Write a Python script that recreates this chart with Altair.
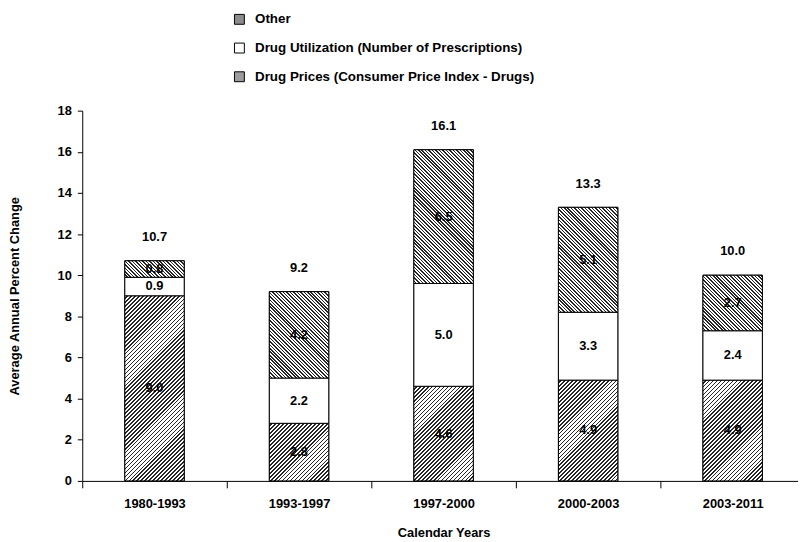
import math
import altair as alt
import pandas as pd

periods = ["1980-1993", "1993-1997", "1997-2000", "2000-2003", "2003-2011"]
prices = [9.0, 2.8, 4.6, 4.9, 4.9]
utilization = [0.9, 2.2, 5.0, 3.3, 2.4]
other = [0.8, 4.2, 6.5, 5.1, 2.7]
totals = [10.7, 9.2, 16.1, 13.3, 10.0]

series_names = [
    "Other",
    "Drug Utilization (Number of Prescriptions)",
    "Drug Prices (Consumer Price Index - Drugs)",
]
stack_rank = {series_names[2]: 0, series_names[1]: 1, series_names[0]: 2}

rows = []
for i, p in enumerate(periods):
    for name, vals in ((series_names[2], prices), (series_names[1], utilization), (series_names[0], other)):
        rows.append({"period": p, "series": name, "value": vals[i], "rank": stack_rank[name]})
df = pd.DataFrame(rows)
tot_df = pd.DataFrame({"period": periods, "total": totals})

FONT = "Liberation Sans"
PLOT_W, PLOT_H = 730, 374
Y_MAX = 18
BAR_W = 60
PX_PER_UNIT = PLOT_H / Y_MAX


def hatch(h, period, duty, forward, ink="#262626", w=BAR_W):
    """45-degree hatch as a linear gradient in bounding-box units."""
    n = math.ceil((w + h) / period)
    k = n * period / (w * w + h * h)
    if forward:  # "/" lines
        x1, y1, x2, y2 = 0, 0, k * w, k * h
    else:  # "\" lines
        x1, y1, x2, y2 = 0, 1, k * w, 1 - k * h
    stops = []
    for i in range(n):
        a = i / n
        b = (i + 1 - duty) / n
        c = (i + 1) / n
        stops += [
            {"offset": a, "color": "white"},
            {"offset": b, "color": "white"},
            {"offset": b, "color": ink},
            {"offset": c, "color": ink},
        ]
    return {"gradient": "linear", "x1": x1, "y1": y1, "x2": x2, "y2": y2, "stops": stops}


conditions = []
for i, p in enumerate(periods):
    conditions.append({
        "test": f"datum.period === '{p}' && datum.series === 'Other'",
        "value": hatch(other[i] * PX_PER_UNIT, 3.5, 0.45, False),
    })
    conditions.append({
        "test": f"datum.period === '{p}' && datum.series === '{series_names[2]}'",
        "value": hatch(prices[i] * PX_PER_UNIT, 4.0, 0.42, True),
    })

x_enc = alt.X(
    "period:N",
    sort=periods,
    scale=alt.Scale(paddingInner=0, paddingOuter=0),
    axis=alt.Axis(
        title="Calendar Years",
        labelAngle=0,
        labelPadding=10,
        tickSize=7,
        tickBand="extent",
        titlePadding=16,
    ),
)
y_scale = alt.Scale(domain=[0, Y_MAX], nice=False)

base = alt.Chart(df).transform_stack(
    stack="value", groupby=["period"], as_=["y0", "y1"], sort=[alt.SortField("rank", order="ascending")]
).transform_calculate(mid="(datum.y0 + datum.y1) / 2")

bars = base.mark_bar(size=BAR_W, stroke="black", strokeWidth=1).encode(
    x=x_enc,
    y=alt.Y(
        "y0:Q",
        scale=y_scale,
        axis=alt.Axis(
            title="Average Annual Percent Change",
            values=list(range(0, 19, 2)),
            tickSize=5,
            labelPadding=6,
            titlePadding=36,
        ),
    ),
    y2="y1:Q",
    color=alt.Color(
        "series:N",
        scale=alt.Scale(domain=series_names, range=["#8c8c8c", "#ffffff", "#9c9c9c"]),
        legend=alt.Legend(
            title=None,
            orient="none",
            legendX=152,
            legendY=-99,
            symbolType="square",
            symbolSize=100,
            symbolStrokeColor="black",
            symbolStrokeWidth=1,
            symbolOpacity=1,
            labelFontSize=13.5,
            labelFontWeight="bold",
            labelFont=FONT,
            labelOffset=9,
            rowPadding=14,
            padding=0,
            labelLimit=400,
        ),
    ),
)

hatched = base.mark_bar(size=BAR_W, stroke="black", strokeWidth=1).encode(
    x=alt.X("period:N", sort=periods),
    y=alt.Y("y0:Q", scale=y_scale),
    y2="y1:Q",
    fill={"condition": conditions, "value": "white"},
)

seg_text = base.mark_text(fontSize=13, fontWeight="bold", font=FONT, color="black", baseline="middle").encode(
    x=alt.X("period:N", sort=periods),
    y=alt.Y("mid:Q", scale=y_scale),
    text=alt.Text("value:Q", format=".1f"),
)

tot_text = alt.Chart(tot_df).mark_text(
    fontSize=13, fontWeight="bold", font=FONT, color="black", baseline="middle", dy=-24
).encode(
    x=alt.X("period:N", sort=periods),
    y=alt.Y("total:Q", scale=y_scale),
    text=alt.Text("total:Q", format=".1f"),
)

chart = (
    alt.layer(bars, hatched, seg_text, tot_text)
    .properties(
        width=PLOT_W,
        height=PLOT_H,
        autosize=alt.AutoSizeParams(type="none"),
        padding={"left": 75, "top": 101, "right": -7, "bottom": 57},
    )
    .configure_view(stroke=None)
    .configure_axis(
        labelFont=FONT,
        titleFont=FONT,
        labelFontSize=13,
        titleFontSize=13,
        labelFontWeight="bold",
        titleFontWeight="bold",
        labelColor="black",
        titleColor="black",
        domainColor="black",
        tickColor="black",
        grid=False,
    )
)

chart.save("out.html", embed_options={"renderer": "svg", "actions": False})
